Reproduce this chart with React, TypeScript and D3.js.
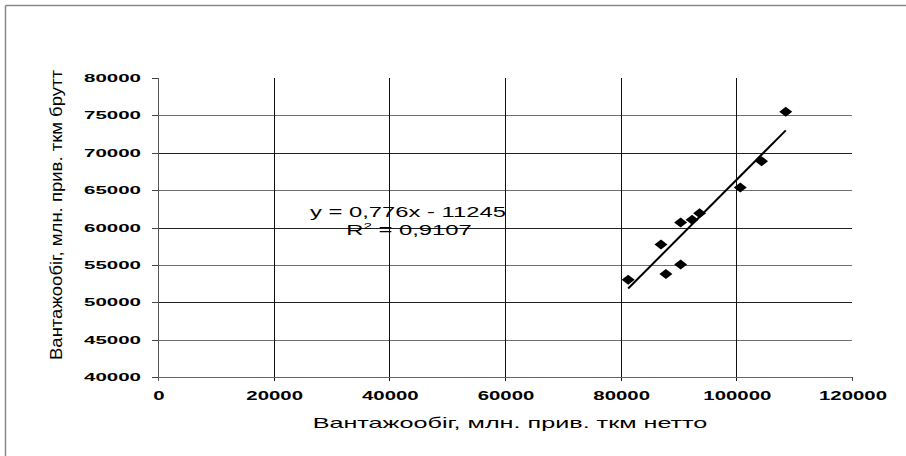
import React from "react";
import * as d3 from "d3";

const xValues = [81300, 86970, 87820, 90370, 90370, 92350, 93650, 100680, 104360, 108550];
const yValues = [53000, 57730, 53770, 60680, 55050, 61050, 61910, 65360, 68860, 75500];
const xTicks = [0, 20000, 40000, 60000, 80000, 100000, 120000];
const yTicks = [40000, 45000, 50000, 55000, 60000, 65000, 70000, 75000, 80000];
const slope = 0.776;
const intercept = -11245;
const equationText = "y = 0,776x - 11245";
const r2Value = "0,9107";
const xTitle = "Вантажообіг, млн. прив. ткм нетто";
const yTitle = "Вантажообіг, млн. прив. ткм брутт";

const W = 906;
const H = 456;
const FONT = "'Liberation Sans', Arial, sans-serif";

export default function App() {
  const x = d3.scaleLinear().domain([0, 120000]).range([158, 852]);
  const y = d3.scaleLinear().domain([40000, 80000]).range([377, 78]);
  const [x0, x1] = x.range();
  const [yb, yt] = y.range();

  const xMin = d3.min(xValues) as number;
  const xMax = d3.max(xValues) as number;
  const trend = d3.line<number>()
    .x((v) => x(v))
    .y((v) => y(slope * v + intercept));

  const diamond = "M0,-5 L6.5,0 L0,5 L-6.5,0 Z";
  const sx = 1.7;

  return (
    <svg
      width={W}
      height={H}
      style={{ position: "absolute", left: 0, top: 0, background: "#fff" }}
      fontFamily={FONT}
    >
      <rect x={0} y={0} width={W} height={H} fill="#fff" />
      {/* frame */}
      <line x1={5.5} y1={5.5} x2={W} y2={5.5} stroke="#888" strokeWidth={1.5} />
      <line x1={5.5} y1={5.5} x2={5.5} y2={H} stroke="#888" strokeWidth={1.5} />

      {/* horizontal gridlines */}
      {yTicks.filter((t) => t !== 40000 && t !== 80000).map((t, i) => (
        <line key={"hg" + t} x1={x0} x2={x1} y1={Math.round(y(t)) + 0.5} y2={Math.round(y(t)) + 0.5}
          stroke={i % 2 === 0 ? "#707070" : "#222"} strokeWidth={1} />
      ))}
      {/* vertical gridlines */}
      {xTicks.filter((t) => t !== 0 && t !== 120000).map((t) => (
        <line key={"vg" + t} x1={Math.round(x(t)) + 0.5} x2={Math.round(x(t)) + 0.5} y1={yt} y2={yb + 4}
          stroke="#111" strokeWidth={1} />
      ))}

      {/* axes */}
      <line x1={x0 + 0.5} x2={x0 + 0.5} y1={yt} y2={yb + 4} stroke="#555" strokeWidth={1} />
      <line x1={x0} x2={x1} y1={yb + 0.5} y2={yb + 0.5} stroke="#666" strokeWidth={1.2} />
      {yTicks.map((t) => (
        <line key={"yt" + t} x1={x0 - 6} x2={x0} y1={Math.round(y(t)) + 0.5} y2={Math.round(y(t)) + 0.5}
          stroke="#444" strokeWidth={1} />
      ))}
      <line x1={Math.round(x(120000)) + 0.5} x2={Math.round(x(120000)) + 0.5} y1={yb} y2={yb + 4} stroke="#444" />

      {/* y tick labels */}
      {yTicks.map((t) => (
        <text key={"yl" + t} transform={`translate(141,${y(t) + 4}) scale(1.78,1)`}
          textAnchor="end" fontSize={11.5} fontWeight="bold" fill="#000">{t}</text>
      ))}
      {/* x tick labels */}
      {xTicks.map((t) => (
        <text key={"xl" + t} transform={`translate(${x(t) + 1},${400}) scale(${sx},1)`}
          textAnchor="middle" fontSize={12} fontWeight="bold" fill="#000">{t}</text>
      ))}

      {/* trendline */}
      <path d={trend([xMin, xMax]) || ""} fill="none" stroke="#000" strokeWidth={2} />

      {/* points */}
      {xValues.map((v, i) => (
        <path key={"p" + i} d={diamond} transform={`translate(${x(v)},${y(yValues[i])})`} fill="#000" />
      ))}

      {/* equation */}
      <text transform={`translate(408,217) scale(${sx},1)`} textAnchor="middle" fontSize={14} fill="#000">
        {equationText}
      </text>
      <text transform={`translate(409,235) scale(${sx},1)`} textAnchor="middle" fontSize={14} fill="#000">
        R<tspan fontSize={9} dy={-6}>2</tspan><tspan dy={6}>{" = " + r2Value}</tspan>
      </text>

      {/* axis titles */}
      <text transform={`translate(510,428) scale(1.8,1)`} textAnchor="middle" fontSize={14} fill="#000">
        {xTitle}
      </text>
      <text transform={`translate(62,360) rotate(-90)`} textAnchor="start" fontSize={17} fill="#000"
        textLength={290} lengthAdjust="spacingAndGlyphs">
        {yTitle}
      </text>
    </svg>
  );
}
